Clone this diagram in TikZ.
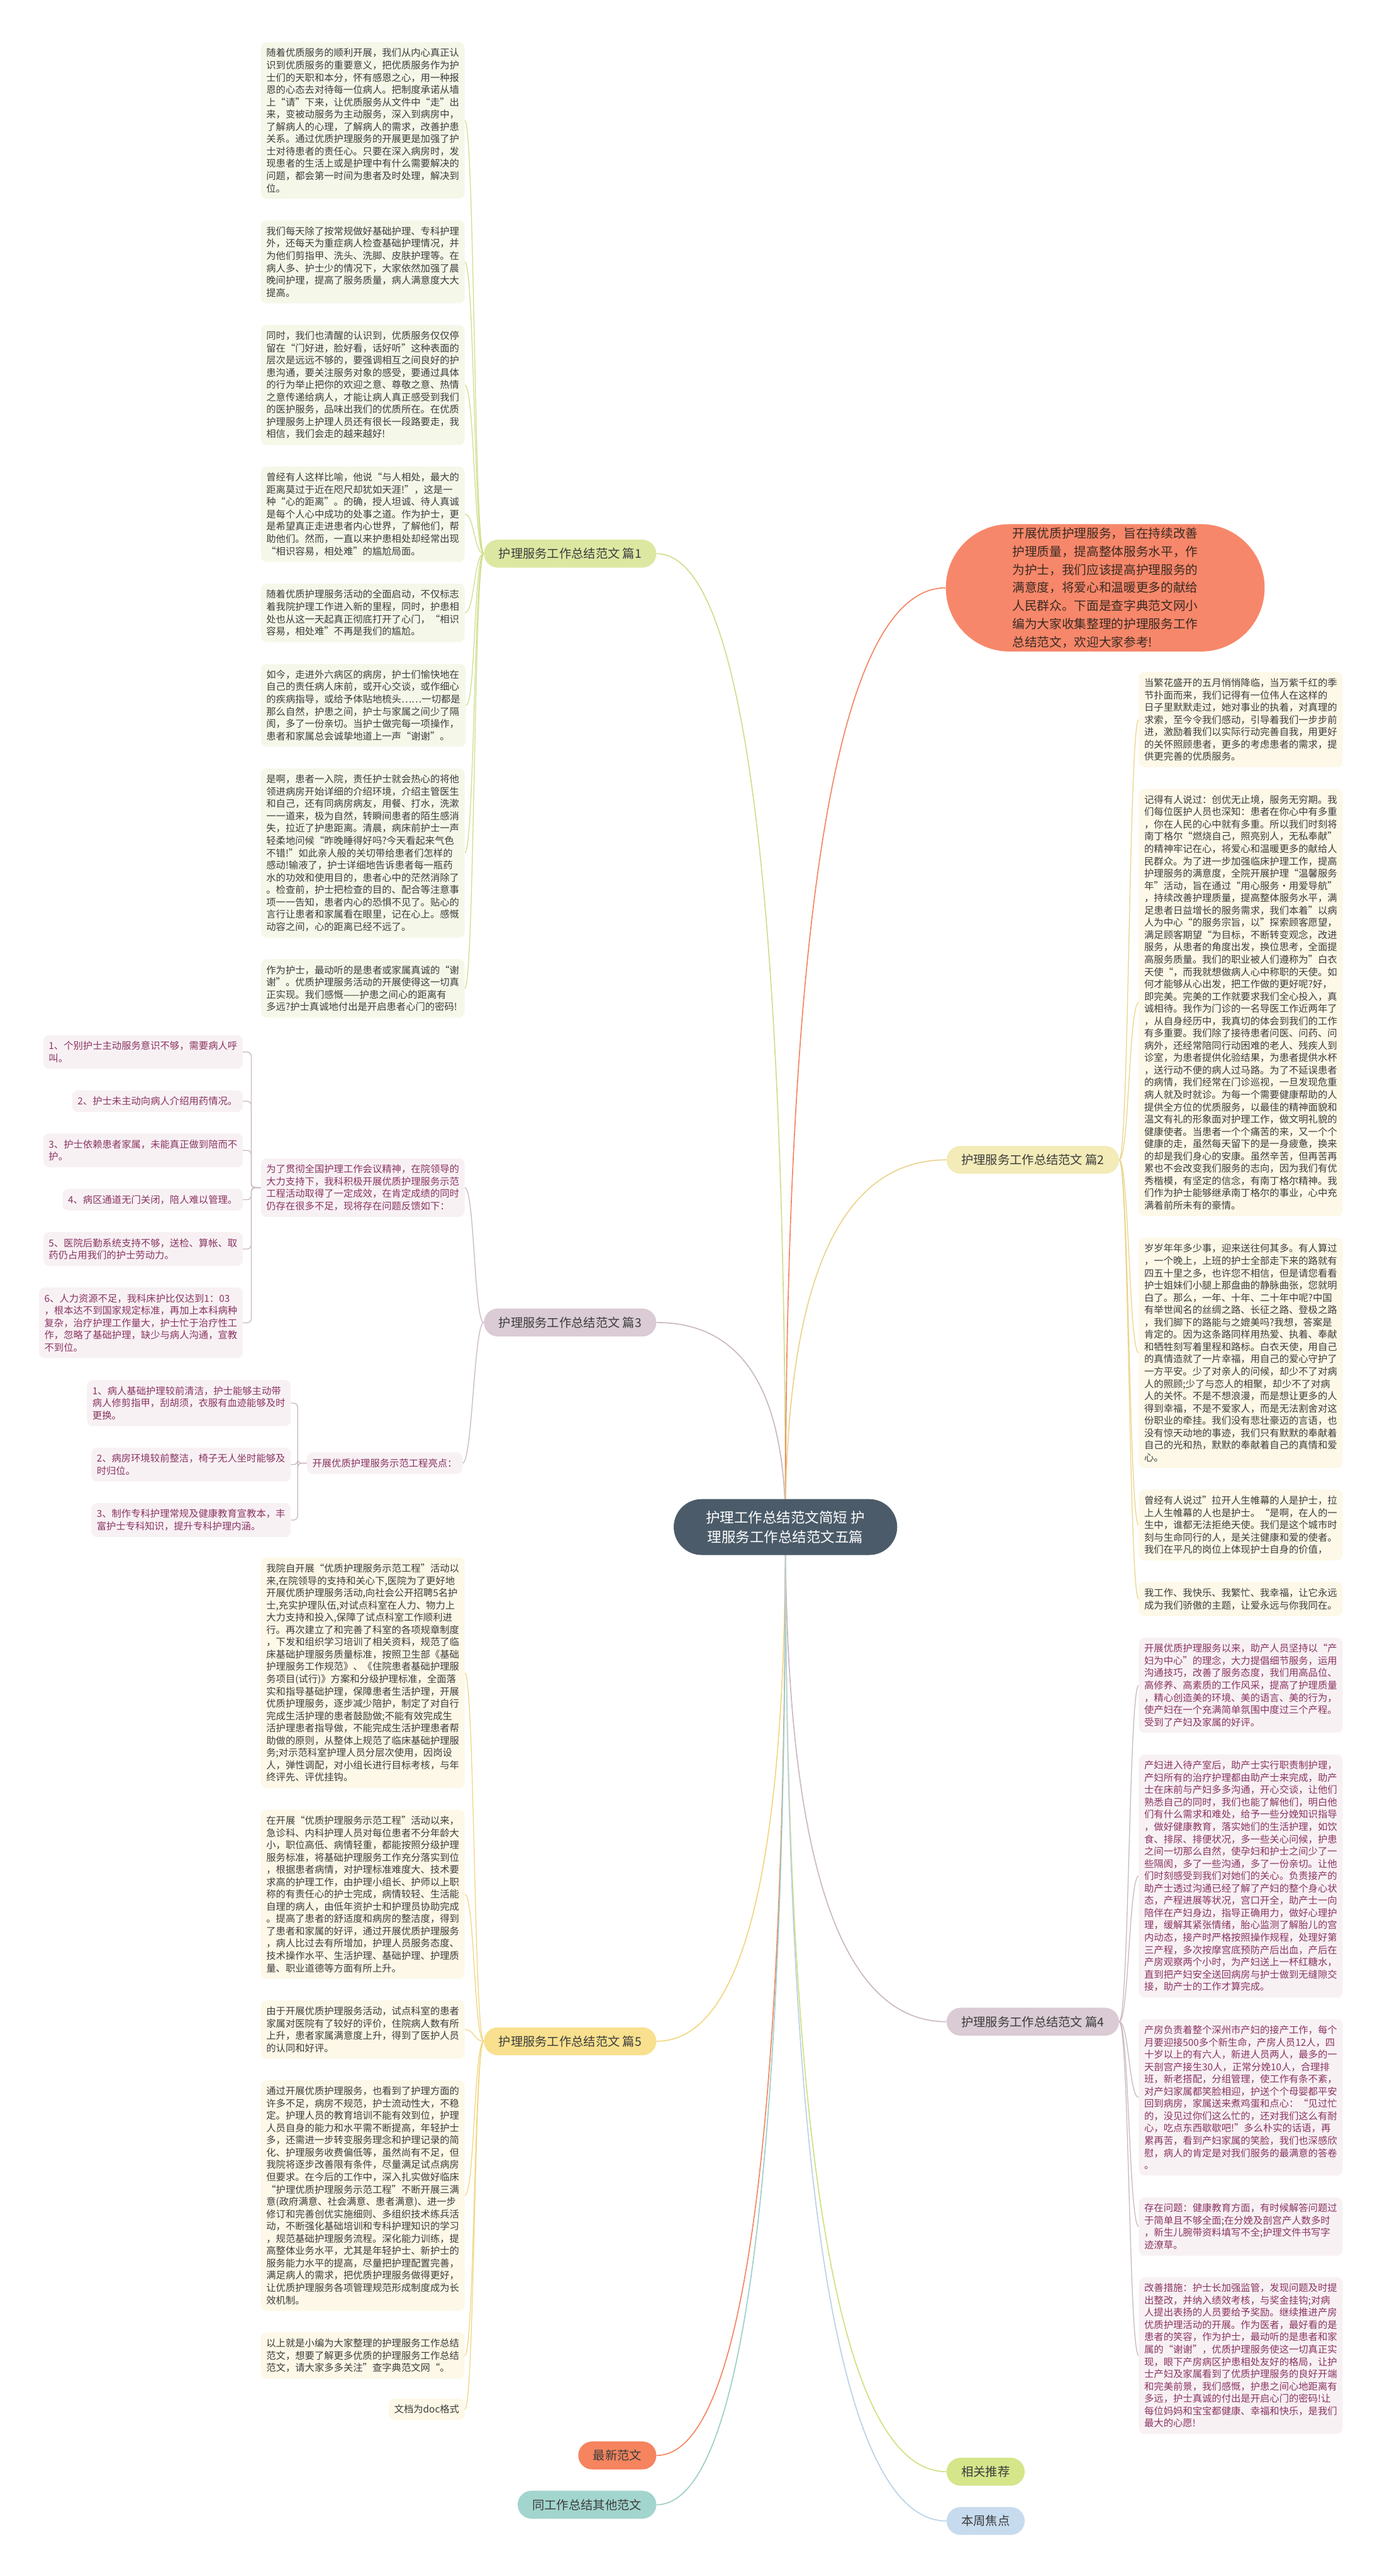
\documentclass[tikz,border=0pt]{standalone}
\usepackage{fontspec}
\setmainfont{Noto Sans CJK SC}
\usetikzlibrary{positioning,calc,backgrounds}
\definecolor{hubSlate}{HTML}{4B5B69}
\definecolor{introCoral}{HTML}{F7876A}
\definecolor{introInk}{HTML}{3A2A22}
\definecolor{inkGray}{HTML}{3C3C3C}
\definecolor{textPlum}{HTML}{8A3462}
\definecolor{tagGreen}{HTML}{DCE8A2}
\definecolor{lineGreen}{HTML}{CDDF8C}
\definecolor{paleGreen}{HTML}{F5F8E9}
\definecolor{tagCream}{HTML}{F3EBB8}
\definecolor{lineGold}{HTML}{EAD48A}
\definecolor{paleCream}{HTML}{FDF8E7}
\definecolor{tagMauve}{HTML}{DACBD4}
\definecolor{lineMauve}{HTML}{C9B7C2}
\definecolor{palePink}{HTML}{F8F1F4}
\definecolor{tagYellow}{HTML}{F8E08E}
\definecolor{lineYellow}{HTML}{F1D680}
\definecolor{newOrange}{HTML}{F5845F}
\definecolor{tealSoft}{HTML}{A2D5CE}
\definecolor{lineTeal}{HTML}{9ACFC8}
\definecolor{greenSoft}{HTML}{D4E58A}
\definecolor{lineLime}{HTML}{CFE07E}
\definecolor{blueSoft}{HTML}{C7DBEE}
\definecolor{lineBlue}{HTML}{B9D1E5}

\begin{document}
\begin{tikzpicture}[
    x=0.1cm,y=-0.1cm,
    hub/.style={fill=hubSlate,text=white,rounded corners=1.7cm,minimum width=13.6cm,minimum height=3.4cm,align=center,font=\fontsize{24.5}{34}\selectfont},
    intro/.style={fill=introCoral,text=introInk,rounded corners=3.87cm,minimum width=19.4cm,minimum height=7.75cm,align=left,font=\fontsize{21.4}{31.3}\selectfont},
    tag/.style={rounded corners=0.85cm,minimum height=1.7cm,inner xsep=0.9cm,inner ysep=0pt,text=inkGray,font=\fontsize{21}{24}\selectfont},
    para/.style={rounded corners=0.35cm,inner xsep=0.33cm,inner ysep=0.38cm,align=left,text=inkGray,font=\fontsize{16.7}{21.3}\selectfont},
    greenpara/.style={para,fill=paleGreen},
    creampara/.style={para,fill=paleCream},
    pinkpara/.style={para,fill=palePink,text=textPlum},
    trunk/.style={line width=1.8pt},
    twig/.style={line width=1.4pt},
    branch/.style={to path={.. controls ($(\tikztostart)!0.667!(\tikztostart |- \tikztotarget)$) and ($(\tikztotarget)!0.667!(\tikztostart |- \tikztotarget)$) .. (\tikztotarget)}},
    lefttwig/.style={to path={.. controls +(-6,0) and +(6,0) .. (\tikztotarget)}},
    righttwig/.style={to path={.. controls +(6,0) and +(-6,0) .. (\tikztotarget)}},
    bracket/.style={twig,lineMauve,rounded corners=0.25cm}
  ]
  \useasboundingbox (0,0) rectangle (841,1568);

  % centre and main branches
  \node[hub] (hub) at (478,929.5) {护理工作总结范文简短 护\\理服务工作总结范文五篇};
  \node[intro] (intro) at (672.6,357.8) {开展优质护理服务，旨在持续改善\\护理质量，提高整体服务水平，作\\为护士，我们应该提高护理服务的\\满意度，将爱心和温暖更多的献给\\人民群众。下面是查字典范文网小\\编为大家收集整理的护理服务工作\\总结范文，欢迎大家参考!};
  \node[tag,fill=tagGreen,anchor=east] (p1) at (399.5,337) {护理服务工作总结范文 篇1};
  \node[tag,fill=tagCream,anchor=west] (p2) at (576,706) {护理服务工作总结范文 篇2};
  \node[tag,fill=tagMauve,anchor=east] (p3) at (399.5,805) {护理服务工作总结范文 篇3};
  \node[tag,fill=tagMauve,anchor=west] (p4) at (576,1230.6) {护理服务工作总结范文 篇4};
  \node[tag,fill=tagYellow,anchor=east] (p5) at (399.5,1242.5) {护理服务工作总结范文 篇5};
  \node[tag,fill=newOrange,anchor=east] (latest) at (399.5,1494.6) {最新范文};
  \node[tag,fill=tealSoft,anchor=east] (others) at (399.5,1524.6) {同工作总结其他范文};
  \node[tag,fill=greenSoft,anchor=west] (related) at (576,1504.5) {相关推荐};
  \node[tag,fill=blueSoft,anchor=west] (weekly) at (576,1534.5) {本周焦点};

  % 篇1
  \node[greenpara,anchor=north west] (a1) at (158.7,25.6) {随着优质服务的顺利开展，我们从内心真正认\\识到优质服务的重要意义，把优质服务作为护\\士们的天职和本分，怀有感恩之心，用一种报\\恩的心态去对待每一位病人。把制度承诺从墙\\上“请”下来，让优质服务从文件中“走”出\\来，变被动服务为主动服务，深入到病房中，\\了解病人的心理，了解病人的需求，改善护患\\关系。通过优质护理服务的开展更是加强了护\\士对待患者的责任心。只要在深入病房时，发\\现患者的生活上或是护理中有什么需要解决的\\问题，都会第一时间为患者及时处理，解决到\\位。};
  \node[greenpara,below=1.3cm of a1.south west,anchor=north west] (a2) {我们每天除了按常规做好基础护理、专科护理\\外，还每天为重症病人检查基础护理情况，并\\为他们剪指甲、洗头、洗脚、皮肤护理等。在\\病人多、护士少的情况下，大家依然加强了晨\\晚间护理，提高了服务质量，病人满意度大大\\提高。};
  \node[greenpara,below=1.3cm of a2.south west,anchor=north west] (a3) {同时，我们也清醒的认识到，优质服务仅仅停\\留在“门好进，脸好看，话好听”这种表面的\\层次是远远不够的，要强调相互之间良好的护\\患沟通，要关注服务对象的感受，要通过具体\\的行为举止把你的欢迎之意、尊敬之意、热情\\之意传递给病人，才能让病人真正感受到我们\\的医护服务，品味出我们的优质所在。在优质\\护理服务上护理人员还有很长一段路要走，我\\相信，我们会走的越来越好!};
  \node[greenpara,below=1.3cm of a3.south west,anchor=north west] (a4) {曾经有人这样比喻，他说“与人相处，最大的\\距离莫过于近在咫尺却犹如天涯!”，这是一\\种“心的距离”。的确，授人坦诚、待人真诚\\是每个人心中成功的处事之道。作为护士，更\\是希望真正走进患者内心世界，了解他们，帮\\助他们。然而，一直以来护患相处却经常出现\\“相识容易，相处难”的尴尬局面。};
  \node[greenpara,below=1.3cm of a4.south west,anchor=north west] (a5) {随着优质护理服务活动的全面启动，不仅标志\\着我院护理工作进入新的里程，同时，护患相\\处也从这一天起真正彻底打开了心门，“相识\\容易，相处难”不再是我们的尴尬。};
  \node[greenpara,below=1.3cm of a5.south west,anchor=north west] (a6) {如今，走进外六病区的病房，护士们愉快地在\\自己的责任病人床前，或开心交谈，或作细心\\的疾病指导，或给予体贴地梳头……一切都是\\那么自然，护患之间，护士与家属之间少了隔\\阂，多了一份亲切。当护士做完每一项操作，\\患者和家属总会诚挚地道上一声“谢谢”。};
  \node[greenpara,below=1.3cm of a6.south west,anchor=north west] (a7) {是啊，患者一入院，责任护士就会热心的将他\\领进病房开始详细的介绍环境，介绍主管医生\\和自己，还有同病房病友，用餐、打水，洗漱\\一一道来，极为自然，转瞬间患者的陌生感消\\失，拉近了护患距离。清晨，病床前护士一声\\轻柔地问候“昨晚睡得好吗?今天看起来气色\\不错!”如此亲人般的关切带给患者们怎样的\\感动!输液了，护士详细地告诉患者每一瓶药\\水的功效和使用目的，患者心中的茫然消除了\\。检查前，护士把检查的目的、配合等注意事\\项一一告知，患者内心的恐惧不见了。贴心的\\言行让患者和家属看在眼里，记在心上。感慨\\动容之间，心的距离已经不远了。};
  \node[greenpara,below=1.3cm of a7.south west,anchor=north west] (a8) {作为护士，最动听的是患者或家属真诚的“谢\\谢”。优质护理服务活动的开展使得这一切真\\正实现。我们感慨——护患之间心的距离有\\多远?护士真诚地付出是开启患者心门的密码!};

  % 篇3
  \node[pinkpara,anchor=north west] (w) at (158.7,705) {为了贯彻全国护理工作会议精神，在院领导的\\大力支持下，我科积极开展优质护理服务示范\\工程活动取得了一定成效，在肯定成绩的同时\\仍存在很多不足，现将存在问题反馈如下：};
  \node[pinkpara,anchor=north east] (q1) at (147.8,630) {1、个别护士主动服务意识不够，需要病人呼\\叫。};
  \node[pinkpara,below=1.3cm of q1.south east,anchor=north east] (q2) {2、护士未主动向病人介绍用药情况。};
  \node[pinkpara,below=1.3cm of q2.south east,anchor=north east] (q3) {3、护士依赖患者家属，未能真正做到陪而不\\护。};
  \node[pinkpara,below=1.3cm of q3.south east,anchor=north east] (q4) {4、病区通道无门关闭，陪人难以管理。};
  \node[pinkpara,below=1.3cm of q4.south east,anchor=north east] (q5) {5、医院后勤系统支持不够，送检、算帐、取\\药仍占用我们的护士劳动力。};
  \node[pinkpara,below=1.3cm of q5.south east,anchor=north east] (q6) {6、人力资源不足，我科床护比仅达到1：03\\，根本达不到国家规定标准，再加上本科病种\\复杂，治疗护理工作量大，护士忙于治疗性工\\作，忽略了基础护理，缺少与病人沟通，宣教\\不到位。};
  \node[pinkpara,anchor=north east] (k) at (281.5,884) {开展优质护理服务示范工程亮点：};
  \node[pinkpara,anchor=north east] (k1) at (177,840) {1、病人基础护理较前清洁，护士能够主动带\\病人修剪指甲，刮胡须，衣服有血迹能够及时\\更换。};
  \node[pinkpara,below=1.3cm of k1.south east,anchor=north east] (k2) {2、病房环境较前整洁，椅子无人坐时能够及\\时归位。};
  \node[pinkpara,below=1.3cm of k2.south east,anchor=north east] (k3) {3、制作专科护理常规及健康教育宣教本，丰\\富护士专科知识，提升专科护理内涵。};

  % 篇5
  \node[creampara,anchor=north west] (e1) at (158.7,948) {我院自开展“优质护理服务示范工程”活动以\\来,在院领导的支持和关心下,医院为了更好地\\开展优质护理服务活动,向社会公开招聘5名护\\士,充实护理队伍,对试点科室在人力、物力上\\大力支持和投入,保障了试点科室工作顺利进\\行。再次建立了和完善了科室的各项规章制度\\，下发和组织学习培训了相关资料，规范了临\\床基础护理服务质量标准，按照卫生部《基础\\护理服务工作规范》、《住院患者基础护理服\\务项目(试行)》方案和分级护理标准，全面落\\实和指导基础护理，保障患者生活护理，开展\\优质护理服务，逐步减少陪护，制定了对自行\\完成生活护理的患者鼓励做;不能有效完成生\\活护理患者指导做，不能完成生活护理患者帮\\助做的原则，从整体上规范了临床基础护理服\\务;对示范科室护理人员分层次使用，因岗设\\人，弹性调配，对小组长进行目标考核，与年\\终评先、评优挂钩。};
  \node[creampara,below=1.3cm of e1.south west,anchor=north west] (e2) {在开展“优质护理服务示范工程”活动以来，\\急诊科、内科护理人员对每位患者不分年龄大\\小，职位高低、病情轻重，都能按照分级护理\\服务标准，将基础护理服务工作充分落实到位\\，根据患者病情，对护理标准难度大、技术要\\求高的护理工作，由护理小组长、护师以上职\\称的有责任心的护士完成，病情较轻、生活能\\自理的病人，由低年资护士和护理员协助完成\\。提高了患者的舒适度和病房的整洁度，得到\\了患者和家属的好评，通过开展优质护理服务\\，病人比过去有所增加，护理人员服务态度、\\技术操作水平、生活护理、基础护理、护理质\\量、职业道德等方面有所上升。};
  \node[creampara,below=1.3cm of e2.south west,anchor=north west] (e3) {由于开展优质护理服务活动，试点科室的患者\\家属对医院有了较好的评价，住院病人数有所\\上升，患者家属满意度上升，得到了医护人员\\的认同和好评。};
  \node[creampara,below=1.3cm of e3.south west,anchor=north west] (e4) {通过开展优质护理服务，也看到了护理方面的\\许多不足，病房不规范，护士流动性大，不稳\\定。护理人员的教育培训不能有效到位，护理\\人员自身的能力和水平需不断提高，年轻护士\\多，还需进一步转变服务理念和护理记录的简\\化、护理服务收费偏低等，虽然尚有不足，但\\我院将逐步改善限有条件，尽量满足试点病房\\但要求。在今后的工作中，深入扎实做好临床\\“护理优质护理服务示范工程”不断开展三满\\意(政府满意、社会满意、患者满意)、进一步\\修订和完善创优实施细则、多组织技术练兵活\\动，不断强化基础培训和专科护理知识的学习\\，规范基础护理服务流程。深化能力训练，提\\高整体业务水平，尤其是年轻护士、新护士的\\服务能力水平的提高，尽量把护理配置完善，\\满足病人的需求，把优质护理服务做得更好，\\让优质护理服务各项管理规范形成制度成为长\\效机制。};
  \node[creampara,below=1.3cm of e4.south west,anchor=north west] (e5) {以上就是小编为大家整理的护理服务工作总结\\范文，想要了解更多优质的护理服务工作总结\\范文，请大家多多关注”查字典范文网“。};
  \node[creampara,below=1.2cm of e5.south east,anchor=north east] (e6) {文档为doc格式};

  % 篇2
  \node[creampara,anchor=north west] (b1) at (693,409) {当繁花盛开的五月悄悄降临，当万紫千红的季\\节扑面而来，我们记得有一位伟人在这样的\\日子里默默走过，她对事业的执着，对真理的\\求索，至今令我们感动，引导着我们一步步前\\进，激励着我们以实际行动完善自我，用更好\\的关怀照顾患者，更多的考虑患者的需求，提\\供更完善的优质服务。};
  \node[creampara,below=1.3cm of b1.south west,anchor=north west] (b2) {记得有人说过：创优无止境，服务无穷期。我\\们每位医护人员也深知：患者在你心中有多重\\，你在人民的心中就有多重。所以我们时刻将\\南丁格尔“燃烧自己，照亮别人，无私奉献”\\的精神牢记在心，将爱心和温暖更多的献给人\\民群众。为了进一步加强临床护理工作，提高\\护理服务的满意度，全院开展护理“温馨服务\\年”活动，旨在通过“用心服务·用爱导航”\\，持续改善护理质量，提高整体服务水平，满\\足患者日益增长的服务需求，我们本着”以病\\人为中心“的服务宗旨，以”探索顾客愿望，\\满足顾客期望“为目标，不断转变观念，改进\\服务，从患者的角度出发，换位思考，全面提\\高服务质量。我们的职业被人们遵称为”白衣\\天使“，而我就想做病人心中称职的天使。如\\何才能够从心出发，把工作做的更好呢?好，\\即完美。完美的工作就要求我们全心投入，真\\诚相待。我作为门诊的一名导医工作近两年了\\，从自身经历中，我真切的体会到我们的工作\\有多重要。我们除了接待患者问医、问药、问\\病外，还经常陪同行动困难的老人、残疾人到\\诊室，为患者提供化验结果，为患者提供水杯\\，送行动不便的病人过马路。为了不延误患者\\的病情，我们经常在门诊巡视，一旦发现危重\\病人就及时就诊。为每一个需要健康帮助的人\\提供全方位的优质服务，以最佳的精神面貌和\\温文有礼的形象面对护理工作，做文明礼貌的\\健康使者。当患者一个个痛苦的来，又一个个\\健康的走，虽然每天留下的是一身疲惫，换来\\的却是我们身心的安康。虽然辛苦，但再苦再\\累也不会改变我们服务的志向，因为我们有优\\秀楷模，有坚定的信念，有南丁格尔精神。我\\们作为护士能够继承南丁格尔的事业，心中充\\满着前所未有的豪情。};
  \node[creampara,below=1.3cm of b2.south west,anchor=north west] (b3) {岁岁年年多少事，迎来送往何其多。有人算过\\，一个晚上，上班的护士全部走下来的路就有\\四五十里之多，也许您不相信，但是请您看看\\护士姐妹们小腿上那盘曲的静脉曲张，您就明\\白了。那么，一年、十年、二十年中呢?中国\\有举世闻名的丝绸之路、长征之路、登极之路\\，我们脚下的路能与之媲美吗?我想，答案是\\肯定的。因为这条路同样用热爱、执着、奉献\\和牺牲刻写着里程和路标。白衣天使，用自己\\的真情造就了一片幸福，用自己的爱心守护了\\一方平安。少了对亲人的问候，却少不了对病\\人的照顾;少了与恋人的相聚，却少不了对病\\人的关怀。不是不想浪漫，而是想让更多的人\\得到幸福，不是不爱家人，而是无法割舍对这\\份职业的牵挂。我们没有悲壮豪迈的言语，也\\没有惊天动地的事迹，我们只有默默的奉献着\\自己的光和热，默默的奉献着自己的真情和爱\\心。};
  \node[creampara,below=1.3cm of b3.south west,anchor=north west] (b4) {曾经有人说过”拉开人生帷幕的人是护士，拉\\上人生帷幕的人也是护士。“是啊，在人的一\\生中，谁都无法拒绝天使。我们是这个城市时\\刻与生命同行的人，是关注健康和爱的使者。\\我们在平凡的岗位上体现护士自身的价值，};
  \node[creampara,below=1.3cm of b4.south west,anchor=north west] (b5) {我工作、我快乐、我繁忙、我幸福，让它永远\\成为我们骄傲的主题，让爱永远与你我同在。};

  % 篇4
  \node[pinkpara,below=1.3cm of b5.south west,anchor=north west] (d1) {开展优质护理服务以来，助产人员坚持以“产\\妇为中心”的理念，大力提倡细节服务，运用\\沟通技巧，改善了服务态度，我们用高品位、\\高修养、高素质的工作风采，提高了护理质量\\，精心创造美的环境、美的语言、美的行为，\\使产妇在一个充满简单氛围中度过三个产程。\\受到了产妇及家属的好评。};
  \node[pinkpara,below=1.3cm of d1.south west,anchor=north west] (d2) {产妇进入待产室后，助产士实行职责制护理，\\产妇所有的治疗护理都由助产士来完成，助产\\士在床前与产妇多多沟通，开心交谈，让他们\\熟悉自己的同时，我们也能了解他们，明白他\\们有什么需求和难处，给予一些分娩知识指导\\，做好健康教育，落实她们的生活护理，如饮\\食、排尿、排便状况，多一些关心问候，护患\\之间一切那么自然，使孕妇和护士之间少了一\\些隔阂，多了一些沟通，多了一份亲切。让他\\们时刻感受到我们对她们的关心。负责接产的\\助产士透过沟通已经了解了产妇的整个身心状\\态，产程进展等状况，宫口开全，助产士一向\\陪伴在产妇身边，指导正确用力，做好心理护\\理，缓解其紧张情绪，胎心监测了解胎儿的宫\\内动态，接产时严格按照操作规程，处理好第\\三产程，多次按摩宫底预防产后出血，产后在\\产房观察两个小时，为产妇送上一杯红糖水，\\直到把产妇安全送回病房与护士做到无缝隙交\\接，助产士的工作才算完成。};
  \node[pinkpara,below=1.3cm of d2.south west,anchor=north west] (d3) {产房负责着整个深州市产妇的接产工作，每个\\月要迎接500多个新生命，产房人员12人，四\\十岁以上的有六人，新进人员两人，最多的一\\天剖宫产接生30人，正常分娩10人，合理排\\班，新老搭配，分组管理，使工作有条不紊，\\对产妇家属都笑脸相迎，护送个个母婴都平安\\回到病房，家属送来煮鸡蛋和点心：“见过忙\\的，没见过你们这么忙的，还对我们这么有耐\\心，吃点东西歇歇吧!”多么朴实的话语，再\\累再苦，看到产妇家属的笑脸，我们也深感欣\\慰，病人的肯定是对我们服务的最满意的答卷\\。};
  \node[pinkpara,below=1.3cm of d3.south west,anchor=north west] (d4) {存在问题：健康教育方面，有时候解答问题过\\于简单且不够全面;在分娩及剖宫产人数多时\\，新生儿腕带资料填写不全;护理文件书写字\\迹潦草。};
  \node[pinkpara,below=1.3cm of d4.south west,anchor=north west] (d5) {改善措施：护士长加强监管，发现问题及时提\\出整改，并纳入绩效考核，与奖金挂钩;对病\\人提出表扬的人员要给予奖励。继续推进产房\\优质护理活动的开展。作为医者，最好看的是\\患者的笑容，作为护士，最动听的是患者和家\\属的“谢谢”，优质护理服务使这一切真正实\\现，眼下产房病区护患相处友好的格局，让护\\士产妇及家属看到了优质护理服务的良好开端\\和完美前景，我们感慨，护患之间心地距离有\\多远，护士真诚的付出是开启心门的密码!让\\每位妈妈和宝宝都健康、幸福和快乐，是我们\\最大的心愿!};

  % connectors
  \begin{scope}[on background layer]
    \fill[white] (0,0) rectangle (841,1568);
    \draw[trunk,lineGreen] (hub.center) to[branch] (p1.east);
    \draw[trunk,newOrange] (hub.center) to[branch] (intro.west);
    \draw[trunk,lineGold] (hub.center) to[branch] (p2.west);
    \draw[trunk,lineMauve] (hub.center) to[branch] (p3.east);
    \draw[trunk,lineMauve] (hub.center) to[branch] (p4.west);
    \draw[trunk,lineYellow] (hub.center) to[branch] (p5.east);
    \draw[trunk,newOrange] (hub.center) to[branch] (latest.east);
    \draw[trunk,lineTeal] (hub.center) to[branch] (others.east);
    \draw[trunk,lineLime] (hub.center) to[branch] (related.west);
    \draw[trunk,lineBlue] (hub.center) to[branch] (weekly.west);
    \foreach \i in {1,...,8}
      \draw[twig,lineGreen] (p1.west) to[lefttwig] (a\i.east);
    \foreach \i in {1,...,5}
      \draw[twig,lineGold] (p2.east) to[righttwig] (b\i.west);
    \foreach \i in {1,...,5}
      \draw[twig,lineMauve] (p4.east) to[righttwig] (d\i.west);
    \foreach \i in {1,...,6}
      \draw[twig,lineYellow] (p5.west) to[lefttwig] (e\i.east);
    \draw[twig,lineMauve] (p3.west) to[lefttwig] (w.east);
    \draw[twig,lineMauve] (p3.west) to[lefttwig] (k.east);
    \foreach \i in {1,...,6}
      \draw[bracket] (w.west) -- ++(-5.8,0) |- (q\i.east);
    \foreach \i in {1,2,3}
      \draw[bracket] (k.west) -- ++(-5.6,0) |- (k\i.east);
  \end{scope}
\end{tikzpicture}
\end{document}
